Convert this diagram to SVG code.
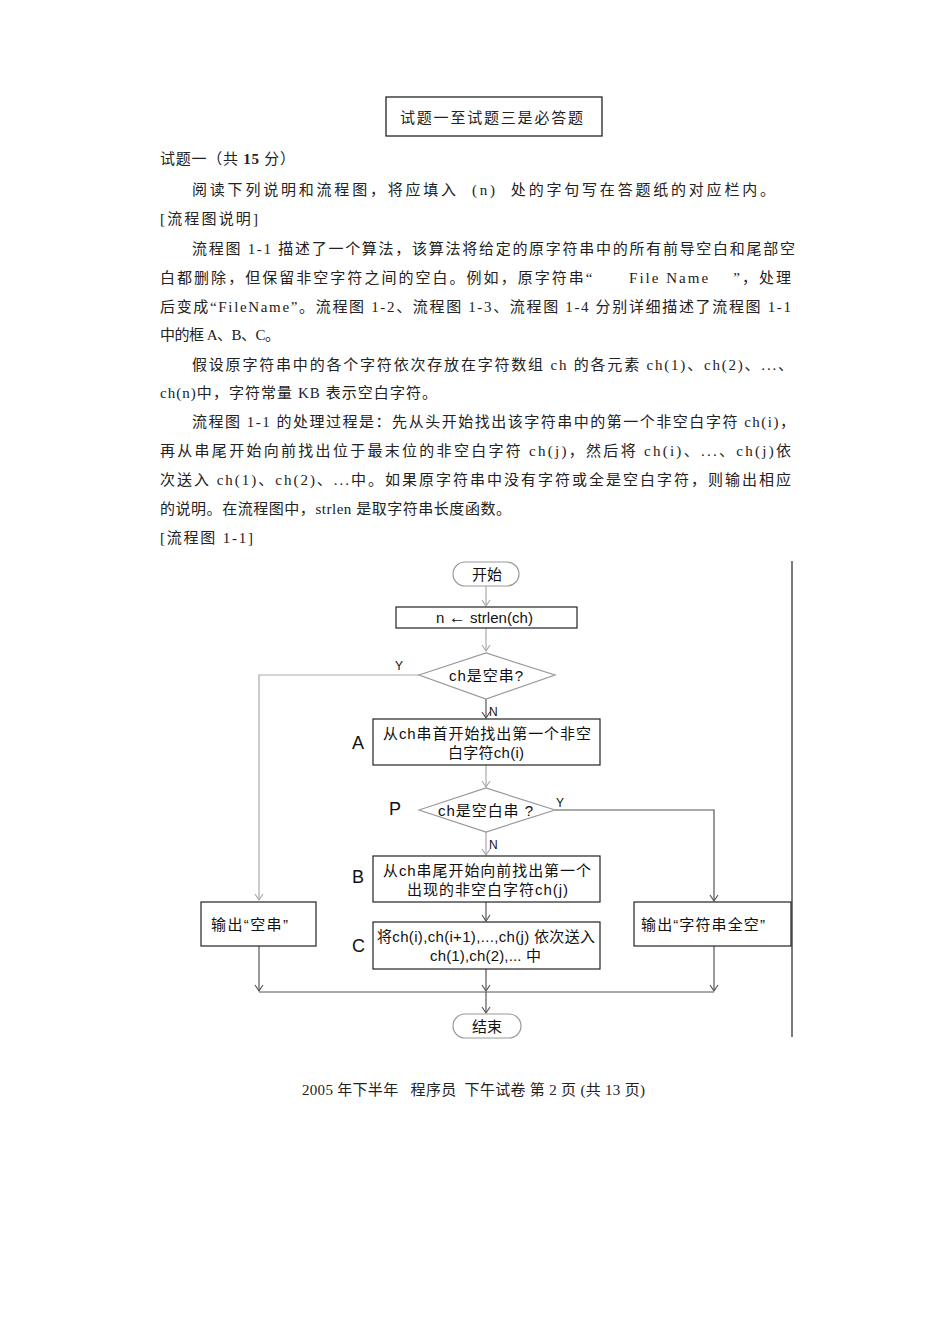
<svg xmlns="http://www.w3.org/2000/svg" width="950" height="1344" viewBox="0 0 950 1344">
<style>
.body{font-family:"Liberation Serif","Noto Sans CJK SC",serif;font-size:15px;fill:#222;white-space:pre}
.fc{font-family:"Liberation Sans","Noto Sans CJK SC",sans-serif;font-size:15px;fill:#111}
.lbl{font-family:"Liberation Sans","Noto Sans CJK SC",sans-serif;font-size:18px;fill:#111}
.yn{font-family:"Liberation Sans","Noto Sans CJK SC",sans-serif;font-size:12px;fill:#111}
.box{fill:#fff;stroke:#222;stroke-width:1.2}
.gbox{fill:#fff;stroke:#999;stroke-width:1.2}
.g{fill:none;stroke:#aaa;stroke-width:1.2}
.d{fill:none;stroke:#555;stroke-width:1.2}
</style>
<rect width="950" height="1344" fill="#fff"/>

<g id="header">
<rect x="386" y="97" width="216" height="39" fill="none" stroke="#111" stroke-width="1.2"/>
<text class="body" x="400" y="123" font-size="16" textLength="183" lengthAdjust="spacing">试题一至试题三是必答题</text>
<text class="body" x="160" y="164" textLength="135" lengthAdjust="spacing">试题一（共 <tspan font-weight="bold">15</tspan> 分）</text>
</g>

<g id="description">
<text class="body" x="192" y="195" textLength="583" lengthAdjust="spacing">阅读下列说明和流程图，将应填入  (n)  处的字句写在答题纸的对应栏内。</text>
<text class="body" x="160" y="224" textLength="98" lengthAdjust="spacing">[流程图说明]</text>
<text class="body" x="192" y="254" textLength="603" lengthAdjust="spacing">流程图 1-1 描述了一个算法，该算法将给定的原字符串中的所有前导空白和尾部空</text>
<text class="body" x="160" y="283" textLength="631" lengthAdjust="spacing">白都删除，但保留非空字符之间的空白。例如，原字符串“      File Name    ”，处理</text>
<text class="body" x="160" y="312" textLength="631" lengthAdjust="spacing">后变成“FileName”。流程图 1-2、流程图 1-3、流程图 1-4 分别详细描述了流程图 1-1</text>
<text class="body" x="160" y="340" textLength="120" lengthAdjust="spacing">中的框 A、B、C。</text>
<text class="body" x="192" y="370" textLength="601" lengthAdjust="spacing">假设原字符串中的各个字符依次存放在字符数组 ch 的各元素 ch(1)、ch(2)、...、</text>
<text class="body" x="160" y="398" textLength="277" lengthAdjust="spacing">ch(n)中，字符常量 KB 表示空白字符。</text>
<text class="body" x="192" y="427" textLength="603" lengthAdjust="spacing">流程图 1-1 的处理过程是：先从头开始找出该字符串中的第一个非空白字符 ch(i)，</text>
<text class="body" x="160" y="456" textLength="631" lengthAdjust="spacing">再从串尾开始向前找出位于最末位的非空白字符 ch(j)，然后将 ch(i)、...、ch(j)依</text>
<text class="body" x="160" y="485" textLength="631" lengthAdjust="spacing">次送入 ch(1)、ch(2)、...中。如果原字符串中没有字符或全是空白字符，则输出相应</text>
<text class="body" x="160" y="514" textLength="351" lengthAdjust="spacing">的说明。在流程图中，strlen 是取字符串长度函数。</text>
<text class="body" x="160" y="543" textLength="93" lengthAdjust="spacing">[流程图 1-1]</text>
</g>

<g id="connectors">
<path class="g" d="M486,586 V605"/>
<path class="g" d="M482,600 L486,606 L490,600"/>
<path class="g" d="M486,628 V651"/>
<path class="g" d="M482,645 L486,651 L490,645"/>
<path class="g" d="M419,675 H259 V900"/>
<path class="g" d="M255,894 L259,900 L263,894"/>
<path class="d" d="M486,699 V718"/>
<path class="d" d="M482,712 L486,718 L490,712"/>
<path class="g" d="M486,765 V787"/>
<path class="g" d="M482,781 L486,787 L490,781"/>
<path class="d" d="M555,810 H714 V901"/>
<path class="d" d="M710,895 L714,901 L718,895"/>
<path class="g" d="M486,832 V855"/>
<path class="g" d="M482,849 L486,855 L490,849"/>
<path class="d" d="M486,902 V921"/>
<path class="d" d="M482,915 L486,921 L490,915"/>
<path class="d" d="M259,946 V991"/>
<path class="d" d="M255,985 L259,991 L263,985"/>
<path class="d" d="M486,969 V991"/>
<path class="d" d="M482,985 L486,991 L490,985"/>
<path class="d" d="M714,946 V991"/>
<path class="d" d="M710,985 L714,991 L718,985"/>
<path class="d" d="M259,992 H714"/>
<path class="d" d="M486,992 V1013"/>
<path class="d" d="M482,1007 L486,1013 L490,1007"/>
<path d="M792,561 V1037" fill="none" stroke="#222" stroke-width="1.2"/>
<text class="yn" x="395" y="670">Y</text>
<text class="yn" x="489" y="716">N</text>
<text class="yn" x="556" y="807">Y</text>
<text class="yn" x="489" y="849">N</text>
</g>

<g id="start">
<rect class="gbox" x="453" y="562" width="66" height="24" rx="12"/>
<text class="fc" x="472" y="580" textLength="30" lengthAdjust="spacing">开始</text>
</g>

<g id="init">
<rect class="box" x="396" y="607" width="181" height="21"/>
<text class="fc" x="436" y="623" textLength="97" lengthAdjust="spacing">n <tspan font-size="17">←</tspan> strlen(ch)</text>
</g>

<g id="cond1">
<polygon class="gbox" points="419,675 486,653 555,675 486,699"/>
<text class="fc" x="449" y="681" textLength="74" lengthAdjust="spacing">ch是空串?</text>
</g>

<g id="boxA">
<text class="lbl" x="352" y="749">A</text>
<rect class="box" x="373" y="719" width="227" height="46"/>
<text class="fc" x="383" y="739" textLength="208" lengthAdjust="spacing">从ch串首开始找出第一个非空</text>
<text class="fc" x="448" y="758" textLength="76" lengthAdjust="spacing">白字符ch(i)</text>
</g>

<g id="condP">
<text class="lbl" x="389" y="815">P</text>
<polygon class="gbox" points="419,810 486,788 555,810 486,832"/>
<text class="fc" x="438" y="816" textLength="95" lengthAdjust="spacing">ch是空白串 ?</text>
</g>

<g id="boxB">
<text class="lbl" x="352" y="883">B</text>
<rect class="box" x="373" y="856" width="227" height="46"/>
<text class="fc" x="383" y="876" textLength="208" lengthAdjust="spacing">从ch串尾开始向前找出第一个</text>
<text class="fc" x="407" y="895" textLength="161" lengthAdjust="spacing">出现的非空白字符ch(j)</text>
</g>

<g id="boxC">
<text class="lbl" x="352" y="952">C</text>
<rect class="box" x="373" y="922" width="227" height="47"/>
<text class="fc" x="377" y="942" textLength="218" lengthAdjust="spacing">将ch(i),ch(i+1),...,ch(j) 依次送入</text>
<text class="fc" x="430" y="961" textLength="111" lengthAdjust="spacing">ch(1),ch(2),... 中</text>
</g>

<g id="outEmpty">
<rect class="box" x="201" y="902" width="115" height="44"/>
<text class="fc" x="211" y="930" textLength="77" lengthAdjust="spacing">输出“空串”</text>
</g>

<g id="outBlank">
<rect class="box" x="634" y="902" width="157" height="44"/>
<text class="fc" x="641" y="930" textLength="124" lengthAdjust="spacing">输出“字符串全空”</text>
</g>

<g id="end">
<rect class="gbox" x="453" y="1014" width="68" height="24" rx="12"/>
<text class="fc" x="472" y="1032" textLength="30" lengthAdjust="spacing">结束</text>
</g>

<g id="footer">
<text class="body" x="302" y="1095" textLength="343" lengthAdjust="spacing">2005 年下半年   程序员  下午试卷 第 2 页 (共 13 页)</text>
</g>
</svg>
